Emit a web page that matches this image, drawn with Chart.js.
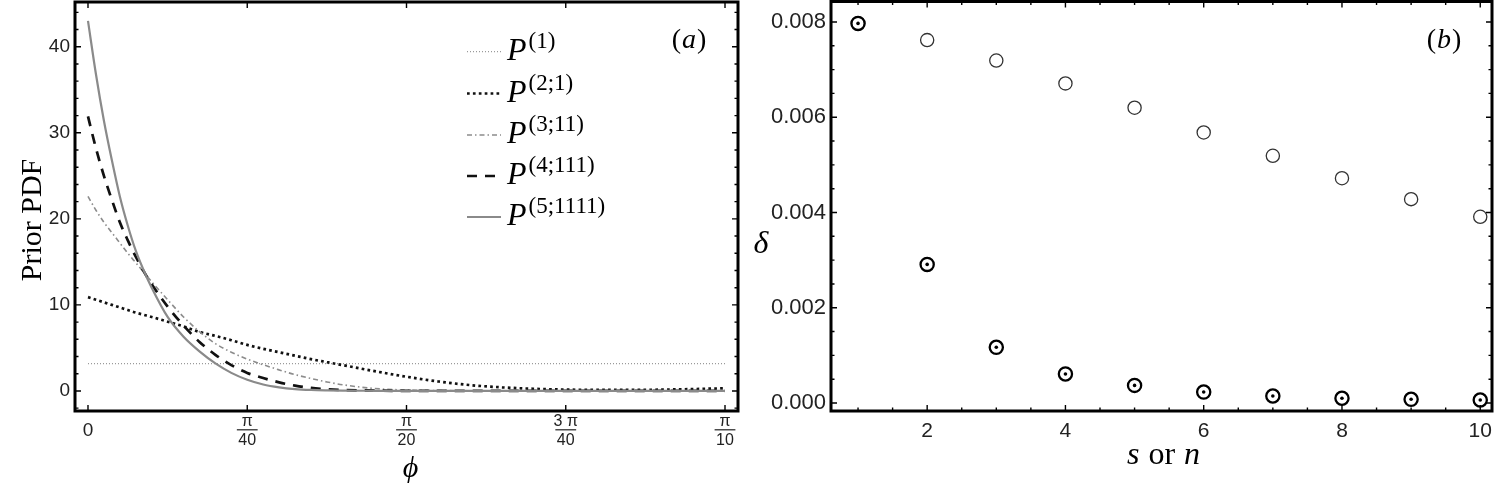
<!DOCTYPE html>
<html><head><meta charset="utf-8">
<script src="https://cdn.jsdelivr.net/npm/chart.js@4.4.1/dist/chart.umd.min.js"></script>
<style>
html,body{margin:0;padding:0;background:#fff;}
#wrap{position:relative;width:1495px;height:486px;background:#fff;}
#ca{position:absolute;left:0;top:0;}
#cb{position:absolute;left:750px;top:0;}
</style></head><body>
<div id="wrap"><canvas id="ca" width="750" height="486"></canvas><canvas id="cb" width="745" height="486"></canvas></div>
<script>
// ---------- Panel (a) data: phi in units of pi/10 ----------
const phi = [0, 0.0125, 0.025, 0.0375, 0.05, 0.0625, 0.075, 0.0875, 0.1, 0.125, 0.15, 0.175, 0.2, 0.225, 0.25, 0.275, 0.3, 0.325, 0.35, 0.375, 0.4, 0.45, 0.5, 0.55, 0.6, 0.65, 0.7, 0.75, 0.8, 0.85, 0.9, 0.95, 1.0];
const phiP1 = [0, 1.0];
const pdfP1 = [3.18, 3.18];
const pdfP2 = [10.9, 10.6, 10.3, 10.0, 9.7, 9.4, 9.1, 8.85, 8.6, 8.05, 7.5, 6.85, 6.4, 5.9, 5.35, 4.9, 4.5, 4.1, 3.7, 3.35, 3.0, 2.3, 1.65, 1.1, 0.68, 0.42, 0.25, 0.16, 0.12, 0.12, 0.15, 0.22, 0.31];
const pdfP3 = [22.6, 21.0, 19.6, 18.4, 17.2, 16.0, 14.9, 13.8, 12.7, 10.6, 8.6, 6.9, 5.5, 4.5, 3.7, 3.05, 2.45, 1.9, 1.45, 1.05, 0.72, 0.28, 0.11, 0.05, 0.02, 0.01, 0, 0, 0, 0, 0, 0, 0];
const pdfP4 = [31.9, 28.2, 25.0, 22.2, 19.6, 17.5, 15.6, 13.9, 12.4, 9.8, 7.6, 5.7, 4.2, 3.0, 2.1, 1.5, 1.0, 0.62, 0.35, 0.2, 0.12, 0.04, 0.01, 0, 0, 0, 0, 0, 0, 0, 0, 0, 0];
const pdfP5 = [43.0, 36.8, 31.4, 26.8, 22.6, 19.2, 16.3, 14.0, 12.0, 8.6, 6.3, 4.6, 3.2, 2.1, 1.3, 0.75, 0.42, 0.22, 0.12, 0.07, 0.04, 0.02, 0.01, 0, 0, 0, 0, 0, 0, 0, 0, 0, 0];
const legendSup = ['(1)', '(2;1)', '(3;11)', '(4;111)', '(5;1111)'];
const xTickValsA = [0, 0.25, 0.5, 0.75, 1.0];
const xTickNumA = ['', '\u03C0', '\u03C0', '3 \u03C0', '\u03C0'];
const xTickDenA = ['0', '40', '20', '40', '10'];
const yTickValsA = [0, 10, 20, 30, 40];

// ---------- Panel (b) data ----------
const sVals = [1, 2, 3, 4, 5, 6, 7, 8, 9, 10];
const deltaOpen = [0.00797, 0.00762, 0.00719, 0.00671, 0.00620, 0.00568, 0.00519, 0.00472, 0.00428, 0.00391];
const deltaDot = [0.00797, 0.00291, 0.00117, 0.00061, 0.00037, 0.00023, 0.000147, 0.000100, 0.000078, 0.000063];
const xTickValsB = [2, 4, 6, 8, 10];
const yTickValsB = [0, 0.002, 0.004, 0.006, 0.008];

const SANS = '"Liberation Sans", Arial, sans-serif';
const SERIF = '"Liberation Serif", "Times New Roman", serif';

function pts(xs, ys){ return xs.map((x,i)=>({x:x, y:ys[i]})); }
function noPad(s){ s.paddingTop = 0; s.paddingBottom = 0; s.paddingLeft = 0; s.paddingRight = 0; }

function drawFrameTicks(chart, xMaj, xMin, yMaj, yMin){
  const ctx = chart.ctx, a = chart.chartArea, xs = chart.scales.x, ys = chart.scales.y;
  ctx.save();
  ctx.strokeStyle = '#000';
  ctx.lineWidth = 1.4;
  const tick = (v, len, axis) => {
    ctx.beginPath();
    if (axis === 'x') {
      const p = xs.getPixelForValue(v);
      ctx.moveTo(p, a.bottom); ctx.lineTo(p, a.bottom - len);
      ctx.moveTo(p, a.top); ctx.lineTo(p, a.top + len);
    } else {
      const p = ys.getPixelForValue(v);
      ctx.moveTo(a.left, p); ctx.lineTo(a.left + len, p);
      ctx.moveTo(a.right, p); ctx.lineTo(a.right - len, p);
    }
    ctx.stroke();
  };
  xMaj.forEach(v=>tick(v, 6, 'x')); xMin.forEach(v=>tick(v, 3.5, 'x'));
  yMaj.forEach(v=>tick(v, 6, 'y')); yMin.forEach(v=>tick(v, 3.5, 'y'));
  ctx.lineWidth = 3;
  ctx.strokeRect(a.left, a.top, a.right - a.left, a.bottom - a.top);
  ctx.restore();
}

function drawParts(ctx, parts, x, y, align){
  let w = 0;
  parts.forEach(p=>{ ctx.font = p.f; w += ctx.measureText(p.t).width + (p.dx||0); });
  let cx = align === 'center' ? x - w/2 : x;
  ctx.textAlign = 'left';
  parts.forEach(p=>{ ctx.font = p.f; ctx.fillText(p.t, cx + (p.dx||0), y + (p.dy||0)); cx += ctx.measureText(p.t).width + (p.dx||0); });
}

// ---------- Chart (a) ----------
const dsA = [
  {label:'P1', data: pts(phiP1, pdfP1), borderColor:'#9a9a9a', borderWidth:1.3, borderDash:[1,2], order:5},
  {label:'P2', data: pts(phi, pdfP2), borderColor:'#111', borderWidth:2.7, borderDash:[2.7,3.2], order:4},
  {label:'P3', data: pts(phi, pdfP3), borderColor:'#8c8c8c', borderWidth:1.6, borderDash:[5,3,1.5,3], order:3},
  {label:'P4', data: pts(phi, pdfP4), borderColor:'#111', borderWidth:2.7, borderDash:[10,8], order:2},
  {label:'P5', data: pts(phi, pdfP5), borderColor:'#8a8a8a', borderWidth:2.2, borderDash:[], order:1}
];

const pluginA = {
  id:'decoA',
  afterDatasetsDraw(chart){
    const yMin = [];
    for (let v = -2; v <= 44; v += 2) if (v % 10 !== 0) yMin.push(v);
    drawFrameTicks(chart, xTickValsA, [], yTickValsA, yMin);
  },
  afterDraw(chart){
    const ctx = chart.ctx, xs = chart.scales.x;
    ctx.save();
    ctx.fillStyle = '#222';
    xTickValsA.forEach((v,i)=>{
      const px = xs.getPixelForValue(v);
      ctx.textAlign = 'center';
      if (!xTickNumA[i]) {
        ctx.font = '19px ' + SANS;
        ctx.fillText(xTickDenA[i], px, 436);
        return;
      }
      ctx.font = '16px ' + SANS;
      ctx.fillText(xTickNumA[i], px, 426);
      const w = ctx.measureText(xTickDenA[i]).width;
      ctx.fillText(xTickDenA[i], px, 445);
      ctx.fillRect(px - w/2 - 1.5, 429.2, w + 3, 1.2);
    });
    ctx.fillStyle = '#000';
    ctx.save();
    ctx.translate(41, 220);
    ctx.rotate(-Math.PI/2);
    ctx.textAlign = 'center';
    ctx.font = '30px ' + SERIF;
    ctx.fillText('Prior PDF', 0, 0);
    ctx.restore();
    ctx.textAlign = 'center';
    ctx.font = 'italic 30px ' + SERIF;
    ctx.fillText('\u03D5', (chart.chartArea.left + chart.chartArea.right)/2 + 4, 477);
    drawParts(ctx, [{t:'(', f:'28px '+SERIF},{t:'a', f:'italic 28px '+SERIF, dx:1},{t:')', f:'28px '+SERIF, dx:1}], 689, 48, 'center');
    const rowY = [51.7, 93.5, 135, 176, 217];
    dsA.forEach((d,i)=>{
      const y = rowY[i];
      ctx.save();
      ctx.strokeStyle = d.borderColor; ctx.lineWidth = d.borderWidth; ctx.setLineDash(d.borderDash);
      ctx.beginPath(); ctx.moveTo(467, y); ctx.lineTo(501, y); ctx.stroke();
      ctx.restore();
      ctx.fillStyle = '#000';
      drawParts(ctx, [{t:'P', f:'italic 32px '+SERIF},{t:legendSup[i], f:'23px '+SERIF, dx:2, dy:-12}], 507, y + 8, 'left');
    });
    ctx.restore();
  }
};

new Chart(document.getElementById('ca'), {
  type:'line',
  data:{datasets: dsA},
  options:{
    responsive:false, animation:false, devicePixelRatio:1,
    layout:{autoPadding:false, padding:{left:0, right:12, top:2, bottom:0}},
    plugins:{legend:{display:false}, tooltip:{enabled:false}},
    elements:{point:{radius:0}, line:{tension:0, cubicInterpolationMode:'monotone', fill:false}},
    scales:{
      x:{type:'linear', min:-0.0204, max:1.0204,
         afterBuildTicks:s=>{s.ticks = xTickValsA.map(v=>({value:v}));},
         ticks:{display:false}, grid:{display:false, drawTicks:false}, border:{display:false},
         afterFit:s=>{s.height = 75; noPad(s);}},
      y:{type:'linear', min:-2.33, max:45.2,
         afterBuildTicks:s=>{s.ticks = yTickValsA.map(v=>({value:v}));},
         ticks:{font:{family:SANS, size:19}, color:'#222', padding:5},
         grid:{display:false, drawTicks:false}, border:{display:false},
         afterFit:s=>{s.width = 75; noPad(s);}}
    }
  },
  plugins:[pluginA]
});

// ---------- Chart (b) ----------
const pluginB = {
  id:'decoB',
  afterDatasetsDraw(chart){
    const xMin = [], yMin = [];
    for (let v = 1; v <= 10.01; v += 0.5) if (Math.abs(v % 2) > 1e-9) xMin.push(v);
    for (let k = 1; k <= 16; k++) if (k % 4 !== 0) yMin.push(k * 0.0005);
    drawFrameTicks(chart, xTickValsB, xMin, yTickValsB, yMin);
  },
  afterDraw(chart){
    const ctx = chart.ctx, a = chart.chartArea;
    ctx.save();
    ctx.fillStyle = '#000';
    ctx.textAlign = 'center';
    ctx.font = 'italic 32px ' + SERIF;
    ctx.fillText('\u03B4', 11, 253);
    drawParts(ctx, [{t:'s', f:'italic 32px '+SERIF},{t:'or', f:'32px '+SERIF, dx:9},{t:'n', f:'italic 32px '+SERIF, dx:9}], (a.left + a.right)/2 + 2, 464, 'center');
    drawParts(ctx, [{t:'(', f:'28px '+SERIF},{t:'b', f:'italic 28px '+SERIF, dx:1},{t:')', f:'28px '+SERIF, dx:1}], 694, 48, 'center');
    ctx.restore();
  }
};

new Chart(document.getElementById('cb'), {
  type:'scatter',
  data:{datasets:[
    {label:'open', data: pts(sVals, deltaOpen), pointRadius:6.6, pointBorderWidth:1.3, pointBorderColor:'#333', pointBackgroundColor:'rgba(0,0,0,0)', showLine:false, order:3},
    {label:'ring', data: pts(sVals, deltaDot), pointRadius:6.6, pointBorderWidth:2.3, pointBorderColor:'#000', pointBackgroundColor:'rgba(0,0,0,0)', showLine:false, order:2},
    {label:'dot', data: pts(sVals, deltaDot), pointRadius:1.8, pointBorderWidth:0, pointBorderColor:'#000', pointBackgroundColor:'#000', showLine:false, order:1}
  ]},
  options:{
    responsive:false, animation:false, devicePixelRatio:1,
    layout:{autoPadding:false, padding:{left:0, right:3, top:1.5, bottom:0}},
    plugins:{legend:{display:false}, tooltip:{enabled:false}},
    scales:{
      x:{type:'linear', min:0.609, max:10.17,
         afterBuildTicks:s=>{s.ticks = xTickValsB.map(v=>({value:v}));},
         ticks:{font:{family:SANS, size:21}, color:'#222', padding:8},
         grid:{display:false, drawTicks:false}, border:{display:false},
         afterFit:s=>{s.height = 75; noPad(s);}},
      y:{type:'linear', min:-0.000168, max:0.00843,
         afterBuildTicks:s=>{s.ticks = yTickValsB.map(v=>({value:v}));},
         ticks:{font:{family:SANS, size:22}, color:'#222', padding:5, callback:v=>v.toFixed(3)},
         grid:{display:false, drawTicks:false}, border:{display:false},
         afterFit:s=>{s.width = 81; noPad(s);}}
    }
  },
  plugins:[pluginB]
});
</script>
</body></html>
